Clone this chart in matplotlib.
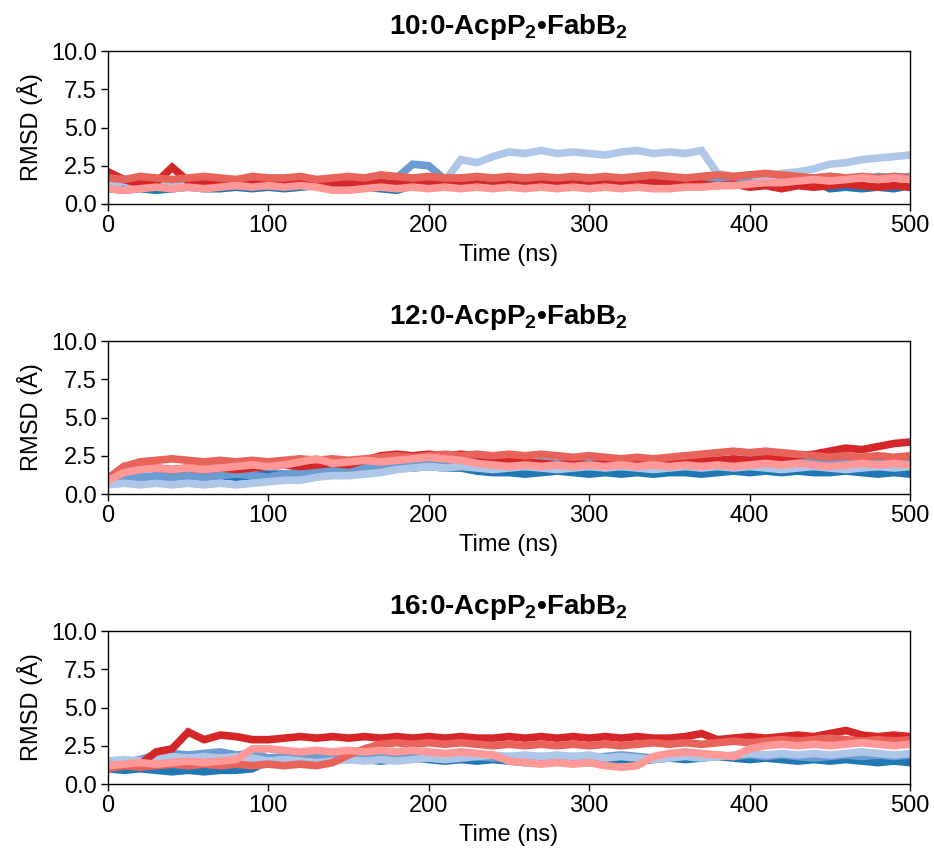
import numpy as np
import matplotlib
matplotlib.use("Agg")
import matplotlib.pyplot as plt

plt.rcParams['font.family'] = ['Liberation Sans', 'DejaVu Sans']
plt.rcParams['mathtext.fontset'] = 'custom'
plt.rcParams['mathtext.rm'] = 'Liberation Sans'
plt.rcParams['mathtext.bf'] = 'Liberation Sans:bold'

# time grid (ns), one value every 10 ns
time_ns = list(range(0, 501, 10))

titles = [r"10:0-AcpP$_\mathbf{2}$•FabB$_\mathbf{2}$",
          r"12:0-AcpP$_\mathbf{2}$•FabB$_\mathbf{2}$",
          r"16:0-AcpP$_\mathbf{2}$•FabB$_\mathbf{2}$"]

colors = ["#1f77b4", "#6b9bd0", "#aec7e8", "#d62728", "#e8635a", "#ff9896"]

# ---- 10:0 panel (RMSD, Angstrom) ----
b1_10 = [1.0, 0.9, 1.0, 0.9, 1.0, 1.1, 1.0, 1.0, 1.1, 1.0, 1.1, 1.0, 1.1, 1.2, 1.1, 1.2, 1.1,
         1.0, 0.9, 1.2, 1.3, 1.2, 1.4, 1.4, 1.3, 1.4, 1.3, 1.4, 1.3, 1.4, 1.3, 1.4, 1.3, 1.4,
         1.3, 1.3, 1.4, 1.3, 1.4, 1.5, 1.5, 1.6, 1.5, 1.4, 1.5, 1.0, 1.1, 1.0, 1.1, 1.0, 1.2]
b2_10 = [1.3, 1.2, 1.4, 1.3, 1.4, 1.3, 1.5, 1.4, 1.3, 1.5, 1.4, 1.5, 1.4, 1.5, 1.6, 1.5, 1.6,
         1.5, 1.7, 2.6, 2.5, 1.6, 1.7, 1.6, 1.7, 1.6, 1.7, 1.6, 1.7, 1.6, 1.7, 1.6, 1.7, 1.6,
         1.7, 1.6, 1.7, 1.6, 1.5, 1.6, 1.7, 1.8, 1.7, 1.6, 1.7, 1.8, 1.7, 1.6, 1.8, 1.7, 1.8]
b3_10 = [1.2, 1.5, 1.0, 1.4, 1.1, 1.3, 1.2, 1.5, 1.3, 1.4, 1.2, 1.3, 1.4, 1.5, 1.3, 1.6, 1.4,
         1.5, 1.6, 1.7, 1.6, 1.5, 2.9, 2.7, 3.1, 3.4, 3.3, 3.5, 3.3, 3.4, 3.3, 3.2, 3.4, 3.5,
         3.3, 3.4, 3.3, 3.5, 2.0, 1.8, 1.9, 1.7, 2.0, 2.1, 2.3, 2.6, 2.7, 2.9, 3.0, 3.1, 3.2]
r1_10 = [2.1, 1.6, 1.3, 1.4, 2.4, 1.5, 1.4, 1.3, 1.4, 1.3, 1.4, 1.3, 1.5, 1.4, 1.3, 1.4, 1.3,
         1.4, 1.3, 1.4, 1.5, 1.3, 1.2, 1.3, 1.2, 1.3, 1.2, 1.3, 1.4, 1.3, 1.2, 1.3, 1.4, 1.3,
         1.4, 1.3, 1.4, 1.3, 1.2, 1.3, 1.1, 1.2, 1.0, 1.2, 1.1, 1.2, 1.3, 1.2, 1.1, 1.2, 1.1]
r2_10 = [1.7, 1.6, 1.8, 1.7, 1.6, 1.7, 1.8, 1.7, 1.6, 1.8, 1.7, 1.7, 1.8, 1.6, 1.7, 1.8, 1.7,
         1.9, 1.8, 1.7, 1.8, 1.7, 1.7, 1.8, 1.7, 1.8, 1.7, 1.8, 1.7, 1.8, 1.7, 1.8, 1.7, 1.8,
         1.9, 1.8, 1.7, 1.8, 1.9, 1.8, 1.9, 2.0, 1.9, 1.8, 1.7, 1.8, 1.7, 1.8, 1.7, 1.8, 1.7]
r3_10 = [1.0, 0.9, 1.0, 1.1, 1.0, 1.1, 1.0, 1.1, 1.2, 1.1, 1.2, 1.1, 1.2, 1.1, 0.9, 0.9, 1.0,
         1.1, 1.0, 1.1, 1.0, 1.1, 1.0, 1.1, 1.0, 1.1, 1.0, 1.1, 1.0, 1.1, 1.0, 1.1, 1.0, 1.1,
         1.0, 1.0, 1.1, 1.1, 1.2, 1.2, 1.3, 1.4, 1.4, 1.5, 1.6, 1.5, 1.6, 1.7, 1.6, 1.7, 1.6]

# ---- 12:0 panel ----
b1_12 = [0.8, 1.0, 1.1, 1.0, 1.1, 1.2, 1.1, 1.2, 1.1, 1.2, 1.3, 1.3, 1.4, 1.4, 1.5, 1.6, 1.6,
         1.7, 1.8, 1.7, 1.8, 1.7, 1.7, 1.5, 1.4, 1.4, 1.3, 1.4, 1.5, 1.4, 1.3, 1.4, 1.3, 1.4,
         1.3, 1.4, 1.4, 1.3, 1.4, 1.5, 1.4, 1.5, 1.4, 1.5, 1.4, 1.4, 1.5, 1.4, 1.3, 1.4, 1.3]
b2_12 = [0.8, 1.0, 1.1, 1.2, 1.1, 1.2, 1.1, 1.2, 1.3, 1.2, 1.1, 1.3, 1.4, 1.5, 1.6, 1.5, 1.7,
         1.8, 1.9, 2.0, 2.0, 2.1, 2.0, 2.1, 2.0, 2.1, 2.0, 2.1, 2.0, 2.1, 2.0, 2.1, 2.0, 2.1,
         2.0, 2.1, 2.0, 2.1, 2.2, 2.1, 2.3, 2.3, 2.2, 2.3, 2.1, 2.0, 2.1, 2.0, 2.1, 2.0, 2.1]
b3_12 = [0.6, 0.7, 0.6, 0.7, 0.6, 0.7, 0.6, 0.7, 0.6, 0.7, 0.8, 0.9, 0.9, 1.1, 1.2, 1.2, 1.3,
         1.4, 1.6, 1.7, 1.8, 1.7, 1.8, 1.7, 1.6, 1.7, 1.8, 1.7, 1.6, 1.7, 1.8, 1.7, 1.8, 1.7,
         1.6, 1.7, 1.8, 1.7, 1.8, 1.7, 1.8, 1.7, 1.6, 1.7, 1.8, 1.7, 1.6, 1.7, 1.8, 1.7, 1.8]
r1_12 = [1.0, 1.8, 1.9, 1.7, 1.6, 1.7, 1.6, 1.7, 1.6, 1.7, 1.8, 1.9, 1.8, 1.9, 2.0, 1.9, 2.2,
         2.5, 2.6, 2.5, 2.6, 2.5, 2.6, 2.5, 2.3, 2.2, 2.1, 2.0, 1.9, 2.0, 1.9, 2.0, 1.9, 2.1,
         2.2, 2.1, 2.2, 2.3, 2.2, 2.3, 2.2, 2.3, 2.4, 2.5, 2.6, 2.8, 3.0, 2.9, 3.1, 3.3, 3.4]
r2_12 = [1.0, 1.8, 2.1, 2.2, 2.3, 2.2, 2.1, 2.2, 2.1, 2.2, 2.1, 2.2, 2.3, 2.2, 2.3, 2.2, 2.3,
         2.4, 2.5, 2.4, 2.5, 2.6, 2.5, 2.6, 2.5, 2.6, 2.5, 2.6, 2.5, 2.4, 2.5, 2.4, 2.3, 2.4,
         2.3, 2.4, 2.5, 2.6, 2.7, 2.8, 2.7, 2.8, 2.7, 2.6, 2.5, 2.4, 2.5, 2.4, 2.5, 2.4, 2.5]
r3_12 = [0.9, 1.4, 1.6, 1.7, 1.6, 1.7, 1.6, 1.7, 1.8, 1.9, 1.8, 1.9, 2.1, 2.3, 2.0, 2.1, 2.2,
         2.1, 2.2, 2.3, 2.4, 2.3, 2.2, 2.0, 1.9, 1.8, 1.9, 1.8, 1.9, 1.8, 1.9, 1.8, 1.9, 1.8,
         1.9, 1.8, 1.9, 1.8, 1.9, 1.8, 1.9, 2.0, 1.9, 2.0, 1.9, 1.8, 1.9, 2.0, 1.9, 2.0, 1.9]

# ---- 16:0 panel ----
b1_16 = [1.0, 0.9, 1.0, 0.9, 0.8, 0.9, 0.8, 0.9, 0.9, 1.0, 1.5, 1.5, 1.6, 1.7, 1.6, 1.7, 1.6,
         1.5, 1.6, 1.7, 1.6, 1.5, 1.6, 1.5, 1.6, 1.5, 1.4, 1.5, 1.6, 1.5, 1.4, 1.5, 1.6, 1.5,
         1.6, 1.7, 1.6, 1.7, 1.8, 1.7, 1.6, 1.7, 1.6, 1.5, 1.6, 1.5, 1.6, 1.5, 1.4, 1.5, 1.4]
b2_16 = [1.2, 1.4, 1.6, 1.9, 2.0, 1.9, 2.0, 2.1, 1.9, 2.0, 1.7, 1.8, 1.7, 1.8, 1.7, 1.6, 1.7,
         1.8, 1.7, 1.8, 1.7, 1.6, 1.7, 1.8, 1.7, 1.8, 1.7, 1.8, 1.7, 1.8, 1.7, 1.8, 1.9, 1.8,
         1.7, 1.8, 1.9, 1.8, 1.9, 1.8, 1.9, 1.8, 1.9, 1.8, 1.7, 1.8, 1.9, 1.8, 1.9, 1.8, 1.9]
b3_16 = [1.5, 1.6, 1.5, 1.7, 1.8, 1.7, 1.8, 1.7, 1.8, 1.7, 1.5, 1.6, 1.5, 1.4, 1.5, 1.6, 1.5,
         1.6, 1.5, 1.6, 1.7, 1.6, 1.7, 1.8, 1.9, 1.8, 1.9, 1.8, 1.9, 1.8, 1.9, 1.7, 1.8, 1.7,
         1.6, 1.7, 1.8, 1.7, 1.8, 1.9, 2.0, 1.9, 2.0, 1.9, 2.0, 1.9, 2.0, 2.1, 2.0, 1.9, 2.0]
r1_16 = [1.2, 1.2, 1.3, 2.1, 2.3, 3.4, 2.9, 3.2, 3.1, 2.9, 2.9, 3.0, 3.1, 3.0, 3.1, 3.0, 3.1,
         3.0, 3.1, 3.0, 3.1, 3.0, 3.1, 3.0, 3.0, 3.1, 3.0, 3.1, 3.0, 3.1, 3.0, 3.1, 3.0, 3.1,
         3.0, 3.0, 3.1, 3.3, 2.9, 3.0, 3.1, 3.0, 3.1, 3.2, 3.1, 3.3, 3.5, 3.2, 3.1, 3.2, 3.1]
r2_16 = [1.0, 1.2, 1.1, 1.2, 1.3, 1.2, 1.3, 1.2, 1.3, 1.2, 1.3, 1.2, 1.3, 1.2, 1.4, 1.9, 2.3,
         2.6, 2.7, 2.6, 2.7, 2.6, 2.7, 2.6, 2.5, 2.6, 2.5, 2.6, 2.5, 2.6, 2.5, 2.6, 2.5, 2.6,
         2.7, 2.6, 2.7, 2.6, 2.7, 2.8, 2.7, 2.8, 2.9, 2.8, 2.9, 3.0, 2.9, 2.8, 2.9, 2.8, 2.9]
r3_16 = [1.2, 1.3, 1.4, 1.3, 1.4, 1.5, 1.4, 1.5, 1.6, 2.3, 2.3, 2.2, 2.1, 2.2, 2.1, 2.2, 2.1,
         2.2, 2.1, 2.2, 2.1, 2.0, 2.1, 2.0, 1.9, 1.5, 1.4, 1.3, 1.4, 1.3, 1.4, 1.2, 1.1, 1.2,
         1.8, 2.0, 2.1, 2.0, 1.9, 1.8, 2.3, 2.5, 2.6, 2.5, 2.6, 2.5, 2.6, 2.7, 2.6, 2.5, 2.6]

panels = [
    [b1_10, b2_10, b3_10, r1_10, r2_10, r3_10],
    [b1_12, b2_12, b3_12, r1_12, r2_12, r3_12],
    [b1_16, b2_16, b3_16, r1_16, r2_16, r3_16],
]

fig = plt.figure(figsize=(9.34, 8.5), dpi=100)
left, width, height = 0.1156, 0.8587, 0.18
bottoms = [0.76, 0.4188, 0.0776]

for title, series, bot in zip(titles, panels, bottoms):
    ax = fig.add_axes([left, bot, width, height])
    for vals, c in zip(series, colors):
        ax.plot(time_ns, vals, color=c, lw=5.5, solid_joinstyle="miter")
    ax.set_xlim(0, 500)
    ax.set_ylim(0, 10)
    ax.set_xticks(np.arange(0, 501, 100))
    ax.set_yticks(np.arange(0, 10.1, 2.5))
    ax.set_yticklabels([f"{v:.1f}" for v in np.arange(0, 10.1, 2.5)])
    ax.tick_params(labelsize=17, width=1.0, length=5, pad=3)
    for s in ax.spines.values():
        s.set_linewidth(1.0)
    ax.set_xlabel("Time (ns)", fontsize=17, labelpad=5)
    ax.set_ylabel("RMSD (Å)", fontsize=17, labelpad=6)
    ax.set_title(title, fontsize=20, fontweight="bold", pad=12)

fig.savefig("out.png", dpi=100)
